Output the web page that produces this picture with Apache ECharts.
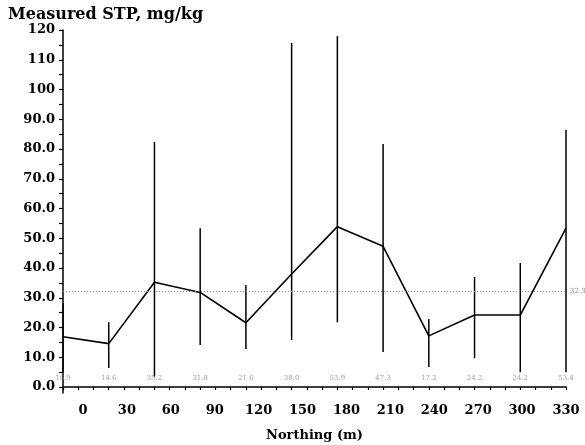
<!DOCTYPE html>
<html>
<head>
<meta charset="utf-8">
<script src="https://cdn.jsdelivr.net/npm/echarts@6/dist/echarts.min.js"></script>
<style>html,body{margin:0;padding:0;background:#fff;}#c{width:585px;height:445px;}</style>
</head>
<body>
<div id="c"></div>
<script>
const northing = [0, 30, 60, 90, 120, 150, 180, 210, 240, 270, 300, 330];
const meanSTP  = [16.9, 14.6, 35.2, 31.8, 21.6, 38.0, 53.9, 47.3, 17.2, 24.2, 24.2, 53.4];
const lowSTP   = [5.0, 6.4, 3.5, 14.1, 12.8, 15.8, 21.8, 11.8, 6.7, 9.7, 5.0, 5.0];
const highSTP  = [28.2, 21.8, 82.4, 53.4, 34.3, 115.6, 118.0, 81.7, 22.9, 37.0, 41.7, 86.4];
const refLevel = 32.3;
const xTickLabels = ['0', '30', '60', '90', '120', '150', '180', '210', '240', '270', '300', '330'];
const yTickValues = [0, 10, 20, 30, 40, 50, 60, 70, 80, 90, 100, 110, 120];
const yTickLabels = ['0.0', '10.0', '20.0', '30.0', '40.0', '50.0', '60.0', '70.0', '80.0', '90.0', '100', '110', '120'];

const serif = 'DejaVu Serif';
const chart = echarts.init(document.getElementById('c'), null, {renderer: 'canvas'});

const yMinorTicks = [];
for (let v = 0; v <= 120; v += 5) yMinorTicks.push(v);
const xTicks = [];
for (let v = 0; v <= 330; v += 10) xTicks.push(v);

chart.setOption({
  animation: false,
  backgroundColor: '#fff',
  title: {
    text: 'Measured STP, mg/kg',
    left: 3, top: 2,
    textStyle: {fontFamily: serif, fontWeight: 'bold', fontSize: 16, color: '#000'}
  },
  grid: {left: 63, right: 19, top: 30, bottom: 52, containLabel: false, outerBoundsMode: 'none'},
  xAxis: [{
    type: 'value', min: 0, max: 330,
    position: 'bottom',
    axisLine: {show: true, lineStyle: {color: '#000', width: 1.5}},
    axisTick: {show: true, customValues: xTicks, length: 3, lineStyle: {color: '#000', width: 1.2}},
    axisLabel: {show: false},
    splitLine: {show: false},
    name: 'Northing (m)', nameLocation: 'middle', nameGap: 36,
    nameTextStyle: {fontFamily: serif, fontWeight: 'bold', fontSize: 13, color: '#000'}
  }, {
    type: 'value', min: -0.455, max: 11,
    position: 'bottom',
    axisLine: {show: false},
    axisTick: {show: false},
    splitLine: {show: false},
    axisLabel: {
      show: true, margin: 11,
      customValues: xTickLabels.map((_, i) => i),
      formatter: v => xTickLabels[Math.round(v)],
      fontFamily: serif, fontWeight: 'bold', fontSize: 13, color: '#000'
    }
  }],
  yAxis: {
    type: 'value', min: -2, max: 120,
    axisLine: {show: true, lineStyle: {color: '#000', width: 1.5}},
    axisTick: {show: true, customValues: yMinorTicks, length: 4, lineStyle: {color: '#000', width: 1.2}},
    axisLabel: {
      show: true, margin: 8,
      customValues: yTickValues,
      formatter: v => yTickLabels[yTickValues.indexOf(Math.round(v))],
      fontFamily: serif, fontWeight: 'bold', fontSize: 13, color: '#000'
    },
    splitLine: {show: false}
  },
  series: [{
    type: 'custom',
    xAxisIndex: 0,
    data: northing.map((n, i) => [n, lowSTP[i], highSTP[i]]),
    encode: {x: 0, y: [1, 2]},
    renderItem: (params, api) => {
      const x = api.value(0);
      const top = api.coord([x, api.value(2)]);
      const bot = api.coord([x, api.value(1)]);
      return {type: 'line', shape: {x1: top[0], y1: top[1], x2: bot[0], y2: bot[1]},
              style: {stroke: '#000', lineWidth: 1.5}};
    },
    z: 3
  }, {
    type: 'line',
    xAxisIndex: 0,
    data: northing.map((n, i) => [n, meanSTP[i]]),
    symbol: 'none',
    lineStyle: {color: '#000', width: 1.6},
    z: 4,
    markLine: {
      silent: true,
      symbol: 'none',
      data: [{yAxis: refLevel}],
      lineStyle: {type: [1, 2], color: '#888', width: 1},
      label: {show: true, position: 'end', distance: 4, formatter: refLevel.toFixed(1),
              fontSize: 7, color: '#888', fontFamily: serif}
    }
  }, {
    type: 'scatter',
    xAxisIndex: 0,
    data: northing.map((n, i) => [n, 3, meanSTP[i]]),
    symbolSize: 0,
    label: {show: true, position: 'inside', formatter: p => p.value[2].toFixed(1),
            fontSize: 7, color: '#888', fontFamily: serif},
    z: 5
  }]
});
</script>
</body>
</html>
